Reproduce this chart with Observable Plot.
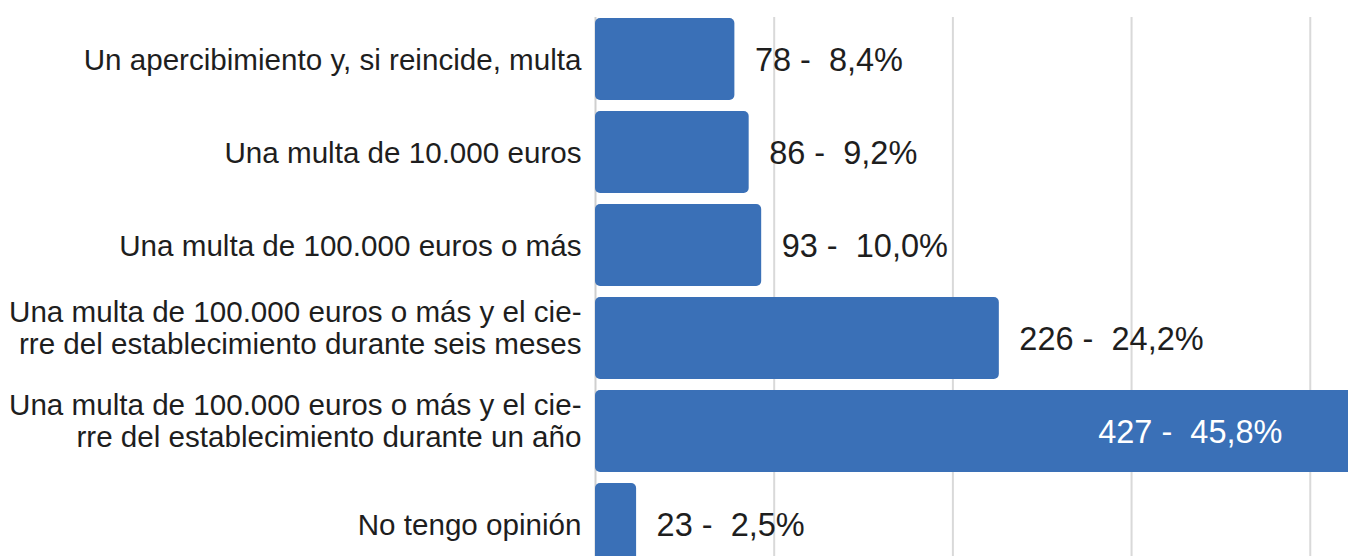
<!DOCTYPE html>
<html>
<head>
<meta charset="utf-8">
<script src="https://cdn.jsdelivr.net/npm/d3@7"></script>
<script src="https://cdn.jsdelivr.net/npm/@observablehq/plot@0.6"></script>
<style>
  html, body { margin: 0; padding: 0; background: #fff; overflow: hidden; }
  #chart svg { display: block; }
</style>
</head>
<body>
<div id="chart"></div>
<script>
const categories = [
  "Un apercibimiento y, si reincide, multa",
  "Una multa de 10.000 euros",
  "Una multa de 100.000 euros o más",
  "Una multa de 100.000 euros o más y el cie-\nrre del establecimiento durante seis meses",
  "Una multa de 100.000 euros o más y el cie-\nrre del establecimiento durante un año",
  "No tengo opinión"
];
const counts = [78, 86, 93, 226, 427, 23];
const percents = [8.4, 9.2, 10.0, 24.2, 45.8, 2.5];
const gridTicks = [100, 200, 300, 400];
const insideThreshold = 400;

const fmtPct = p => p.toFixed(1).replace(".", ",") + "%";
const rows = categories.map((c, i) => ({
  category: c,
  count: counts[i],
  label: `${counts[i]} -  ${fmtPct(percents[i])}`,
  multiline: c.includes("\n")
}));

const font = "'Helvetica Neue', 'Liberation Sans', Arial, sans-serif";
const barColor = "#3a70b7";
const textColor = "#1e1e1e";

const catText = (data, dy) => Plot.text(data, {
  y: "category", x: 0, text: "category",
  textAnchor: "end", dx: -14, dy,
  fontSize: 29.6, lineHeight: 1.08, fill: textColor
});

const chart = Plot.plot({
  width: 1348,
  height: 566,
  marginLeft: 595,
  marginRight: 0,
  marginTop: 17,
  marginBottom: 0,
  style: { fontFamily: font, background: "#fff", overflow: "visible" },
  x: { domain: [0, 421.4], axis: null },
  y: { domain: categories, padding: 0.12, paddingOuter: 0, axis: null, label: null },
  marks: [
    Plot.ruleX(gridTicks, { stroke: "#d9d9d9", strokeWidth: 2 }),
    Plot.ruleX([0], { stroke: "#cfcfcf", strokeWidth: 2 }),
    Plot.barX(rows, { y: "category", x: "count", fill: barColor, rx: 5 }),
    catText(rows.filter(d => !d.multiline), 0),
    catText(rows.filter(d => d.multiline), -11),
    Plot.text(rows.filter(d => d.count < insideThreshold), {
      y: "category", x: "count", text: "label",
      textAnchor: "start", dx: 20, dy: 1, fontSize: 32.5, fill: textColor
    }),
    Plot.text(rows.filter(d => d.count >= insideThreshold), {
      y: "category", x: "count", text: "label",
      textAnchor: "end", dx: -76, dy: 1, fontSize: 32.5, fill: "#ffffff"
    })
  ]
});
document.getElementById("chart").appendChild(chart);
</script>
</body>
</html>
